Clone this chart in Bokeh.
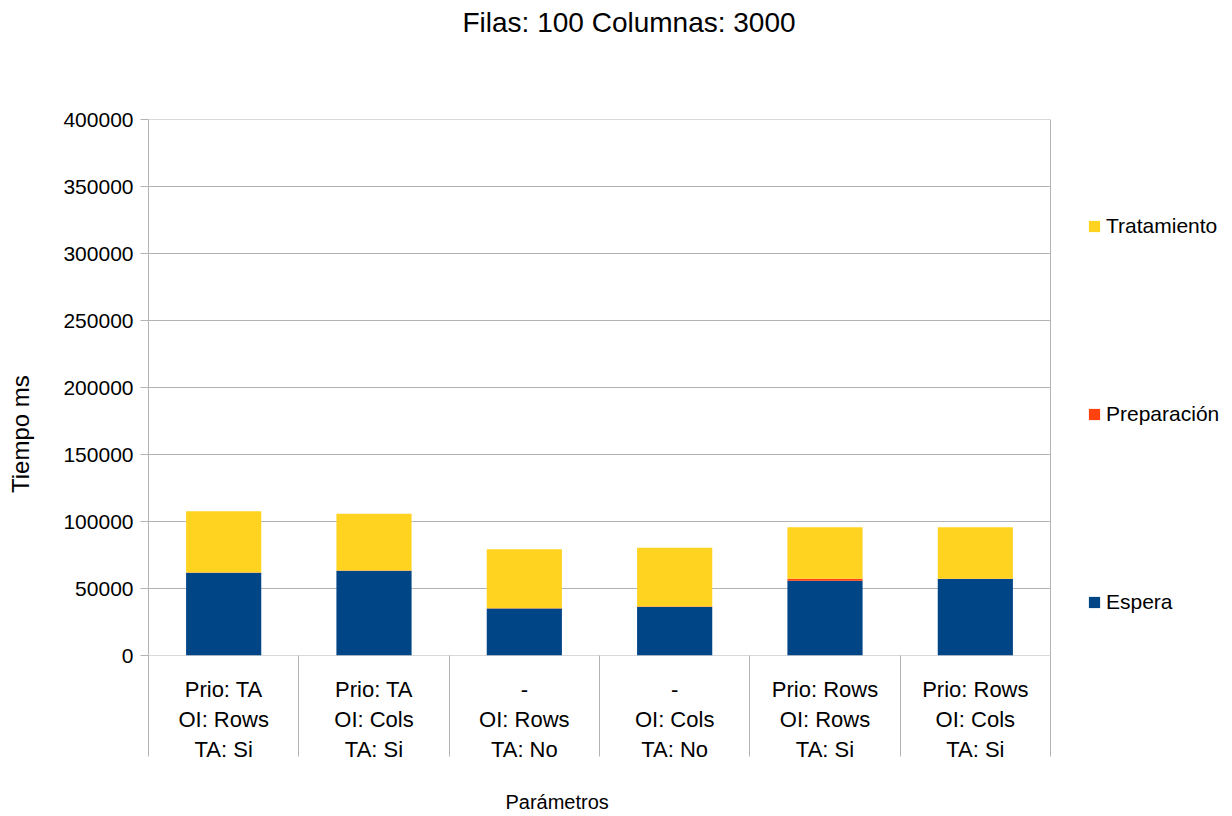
from bokeh.plotting import figure
from bokeh.models import (Range1d, FixedTicker, Legend, LegendItem, ColumnDataSource)
from bokeh.embed import file_html
from bokeh.resources import INLINE

categories = ["Prio: TA\nOI: Rows\nTA: Si", "Prio: TA\nOI: Cols\nTA: Si",
              "-\nOI: Rows\nTA: No", "-\nOI: Cols\nTA: No",
              "Prio: Rows\nOI: Rows\nTA: Si", "Prio: Rows\nOI: Cols\nTA: Si"]
espera = [61700, 63200, 35000, 36200, 55800, 57000]
preparacion = [300, 300, 300, 300, 1500, 300]
tratamiento = [45600, 42300, 44000, 44000, 38400, 38400]
series = ["Espera", "Preparación", "Tratamiento"]
colors = ["#004586", "#ff420e", "#ffd320"]
y_ticks = [0, 50000, 100000, 150000, 200000, 250000, 300000, 350000, 400000]

n = len(categories)
centers = [i + 0.5 for i in range(n)]
bounds = list(range(n + 1))
GRID = "#b3b3b3"
FONT = "Liberation Sans"
NB = "\u00a0"

# plot frame spans to the right edge so that the legend can live inside it;
# the chart area proper covers x in [0, n]
x_end = n * (1232 - 148) / (1050 - 148)

src = ColumnDataSource(dict(x=centers, Espera=espera, Preparación=preparacion,
                            Tratamiento=tratamiento))
grid_src = ColumnDataSource(dict(x0=[0] * len(y_ticks), x1=[n] * len(y_ticks),
                                 y=y_ticks))

p = figure(width=1232, height=816, output_backend="svg", toolbar_location=None,
           x_range=Range1d(0, x_end), y_range=Range1d(y_ticks[0], y_ticks[-1]),
           min_border_left=148, min_border_right=0, min_border_top=118,
           min_border_bottom=160)
p.outline_line_color = None
p.xgrid.visible = False
p.ygrid.visible = False

# horizontal grid lines limited to the chart area, and its right border
p.segment(x0="x0", y0="y", x1="x1", y1="y", source=grid_src,
          line_color=GRID, line_width=1)
p.segment(x0=[n], y0=[y_ticks[0]], x1=[n], y1=[y_ticks[-1]],
          line_color=GRID, line_width=1)

rs = p.vbar_stack(series, x="x", width=0.5, source=src, color=colors,
                  line_color=None)

p.title.text = "Filas: 100 Columnas: 3000\n" + NB + "\n" + NB
p.title.align = "left"
p.title.offset = 314
p.title.text_font = FONT
p.title.text_font_size = "28px"
p.title.text_font_style = "normal"
p.title.text_color = "#000000"
p.title.text_line_height = 1.25
p.title.standoff = 8

ya = p.yaxis[0]
ya.ticker = FixedTicker(ticks=y_ticks)
ya.major_label_overrides = {t: str(t) for t in y_ticks}
ya.major_label_text_font = FONT
ya.major_label_text_font_size = "21px"
ya.major_label_text_color = "#000000"
ya.axis_line_color = GRID
ya.major_tick_line_color = GRID
ya.major_tick_out = 8
ya.major_tick_in = 0
ya.minor_tick_line_color = None
ya.major_label_standoff = 7
ya.axis_label = "Tiempo ms" + NB * 14
ya.axis_label_text_font = FONT
ya.axis_label_text_font_size = "24px"
ya.axis_label_text_font_style = "normal"
ya.axis_label_text_color = "#000000"
ya.axis_label_standoff = 26

xa = p.xaxis[0]
xa.ticker = FixedTicker(ticks=centers, minor_ticks=bounds)
xa.major_label_overrides = {c: lab for c, lab in zip(centers, categories)}
xa.major_label_text_font = FONT
xa.major_label_text_font_size = "22px"
xa.major_label_text_color = "#000000"
xa.major_label_text_line_height = 1.21
xa.axis_line_color = None
xa.major_tick_line_color = None
xa.major_tick_out = 0
xa.major_tick_in = 0
xa.minor_tick_line_color = GRID
xa.minor_tick_out = 101
xa.minor_tick_in = 0
xa.major_label_standoff = -80
xa.axis_label = "Parámetros" + NB * 48
xa.axis_label_text_font = FONT
xa.axis_label_text_font_size = "20px"
xa.axis_label_text_font_style = "normal"
xa.axis_label_text_color = "#000000"
xa.axis_label_standoff = 26

items = [LegendItem(label=s, renderers=[r]) for s, r in zip(series, rs)][::-1]
legend = Legend(items=items, location=(939, 41), orientation="vertical",
                label_text_font=FONT, label_text_font_size="21px",
                label_text_color="#000000", glyph_width=14, glyph_height=14,
                label_height=21, label_standoff=5, spacing=164, padding=0,
                margin=0, border_line_color=None, background_fill_alpha=0)
p.add_layout(legend, "center")

open("out.html", "w").write(file_html(p, INLINE))
